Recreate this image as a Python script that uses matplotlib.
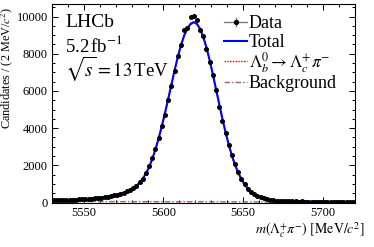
import numpy as np
import matplotlib
matplotlib.use("Agg")
import matplotlib.pyplot as plt
from matplotlib.ticker import MultipleLocator
from matplotlib.lines import Line2D

plt.rcParams['font.family'] = ['Liberation Serif', 'DejaVu Serif']
plt.rcParams['mathtext.fontset'] = 'stix'

# ---- data -------------------------------------------------------------
bin_lo, bin_hi, bin_width = 5530, 5720, 2
centers = np.arange(bin_lo + bin_width / 2, bin_hi, bin_width)

data_counts = [
    130, 115, 140, 130, 145, 140, 160, 150, 175, 170,
    195, 190, 215, 220, 240, 255, 285, 305, 335, 390,
    410, 470, 510, 600, 650, 780, 890, 1080, 1280, 1570,
    1950, 2400, 2880, 3450, 4100, 4720, 5500, 6250, 7050, 7900,
    8480, 9290, 9370, 9980, 10050, 9800, 9250, 8980, 8270, 7540,
    6830, 6060, 5160, 4410, 3730, 3120, 2580, 2080, 1630, 1270,
    1000, 740, 570, 440, 360, 280, 230, 180, 150, 115,
    105, 90, 75, 80, 65, 70, 60, 55, 65, 50,
    55, 45, 50, 55, 40, 50, 45, 40, 50, 35,
    45, 40, 35, 45, 40,
]

total_fit = [
    124, 128, 132, 137, 142, 148, 154, 161, 169, 178,
    188, 200, 213, 228, 245, 265, 290, 315, 345, 380,
    420, 465, 520, 585, 665, 770, 900, 1070, 1290, 1560,
    1910, 2350, 2870, 3460, 4120, 4830, 5580, 6350, 7110, 7830,
    8460, 8980, 9360, 9610, 9700, 9610, 9340, 8910, 8340, 7660,
    6900, 6100, 5300, 4510, 3780, 3110, 2520, 2020, 1600, 1250,
    970, 750, 580, 450, 350, 275, 220, 178, 145, 120,
    102, 90, 80, 73, 68, 64, 61, 58, 56, 54,
    52, 51, 50, 49, 48, 47, 46, 45, 45, 44,
    43, 43, 42, 42, 41,
]

background_fit = [
    56, 56, 55, 55, 55, 54, 54, 54, 53, 53,
    53, 52, 52, 52, 51, 51, 51, 50, 50, 50,
    49, 49, 49, 48, 48, 48, 47, 47, 47, 46,
    46, 46, 45, 45, 45, 44, 44, 44, 43, 43,
    43, 42, 42, 42, 41, 41, 41, 40, 40, 40,
    39, 39, 39, 38, 38, 38, 37, 37, 37, 37,
    36, 36, 36, 35, 35, 35, 35, 34, 34, 34,
    34, 33, 33, 33, 33, 32, 32, 32, 32, 31,
    31, 31, 31, 30, 30, 30, 30, 30, 29, 29,
    29, 29, 29, 28, 28,
]

labels = ["Data", "Total", r"$\Lambda_b^0 \rightarrow \Lambda_c^{+}\pi^{-}$", "Background"]

# ---- plot -------------------------------------------------------------
data_counts = np.array(data_counts, dtype=float)
total_fit = np.array(total_fit, dtype=float)
background_fit = np.array(background_fit, dtype=float)
signal_fit = total_fit - background_fit

fig = plt.figure(figsize=(3.74, 2.47), dpi=100)
ax = fig.add_axes([0.139, 0.180, 0.809, 0.802])

tot_style = dict(color='#0000ff', lw=1.5)
sig_style = dict(color='#ff0000', lw=1.0, ls=(0, (1, 1)))
bkg_style = dict(color='#a06060', lw=1.0, ls=(0, (4, 1.5, 1, 1.5)))

ax.plot(centers, total_fit, zorder=3, **tot_style)
ax.plot(centers, signal_fit, zorder=2, **sig_style)
ax.plot(centers, background_fit, zorder=2, **bkg_style)
ax.errorbar(centers, data_counts, yerr=np.sqrt(data_counts), xerr=bin_width / 2,
            fmt='o', color='black', ecolor='0.35', elinewidth=0.8, ms=2.6,
            capsize=0, zorder=4)

ax.set_xlim(bin_lo, bin_hi)
ax.set_ylim(0, 10650)

ax.xaxis.set_major_locator(MultipleLocator(50))
ax.xaxis.set_minor_locator(MultipleLocator(10))
ax.yaxis.set_major_locator(MultipleLocator(2000))
ax.yaxis.set_minor_locator(MultipleLocator(500))
ax.tick_params(which='both', direction='in', top=True, right=True, labelsize=9, width=0.7)
ax.tick_params(which='major', length=4.0, pad=3)
ax.tick_params(which='minor', length=2.0)
for s in ax.spines.values():
    s.set_linewidth(0.8)

ax.set_xlabel(r"$m(\Lambda_c^{+}\pi^{-})\ \left[\mathrm{MeV}/c^{2}\right]$", fontsize=10, ha='right')
ax.xaxis.set_label_coords(1.035, -0.14)
ax.xaxis.label.set_va('center')
ax.set_ylabel(r"Candidates / (2 MeV/$c^{2}$)", fontsize=8.8, ha='right')
ax.yaxis.set_label_coords(-0.121, 0.99)

ax.text(0.043, 0.888, "LHCb", transform=ax.transAxes, fontsize=14, va='baseline', ha='left')
ax.text(0.043, 0.760, r"5.2$\,$fb$^{-1}$", transform=ax.transAxes, fontsize=13.5, va='baseline', ha='left')
ax.text(0.043, 0.636, r"$\sqrt{s}=13\,$TeV", transform=ax.transAxes, fontsize=13.5, va='baseline', ha='left')

# legend, drawn entry by entry (ROOT-like compact layout)
hx0, hx1, tx = 0.569, 0.645, 0.650
line_y = [0.910, 0.815, 0.714, 0.607]
base_y = [0.882, 0.786, 0.680, 0.578]
hxm = (hx0 + hx1) / 2
ax.add_line(Line2D([hx0, hx1], [line_y[0]] * 2, transform=ax.transAxes, color='0.45', lw=0.9, clip_on=False))
ax.add_line(Line2D([hxm, hxm], [line_y[0] - 0.021, line_y[0] + 0.021], transform=ax.transAxes,
                   color='0.45', lw=0.9, clip_on=False))
ax.add_line(Line2D([hxm], [line_y[0]], transform=ax.transAxes, marker='o', ms=2.8, color='black', clip_on=False))
for yy, st in zip(line_y[1:], [tot_style, sig_style, bkg_style]):
    ax.add_line(Line2D([hx0, hx1], [yy, yy], transform=ax.transAxes, clip_on=False, **st))
for yy, lab, fs in zip(base_y, labels, [13, 13, 12.5, 13]):
    ax.text(tx, yy, lab, transform=ax.transAxes, fontsize=fs, va='baseline', ha='left')

fig.savefig("out.png", dpi=100)
